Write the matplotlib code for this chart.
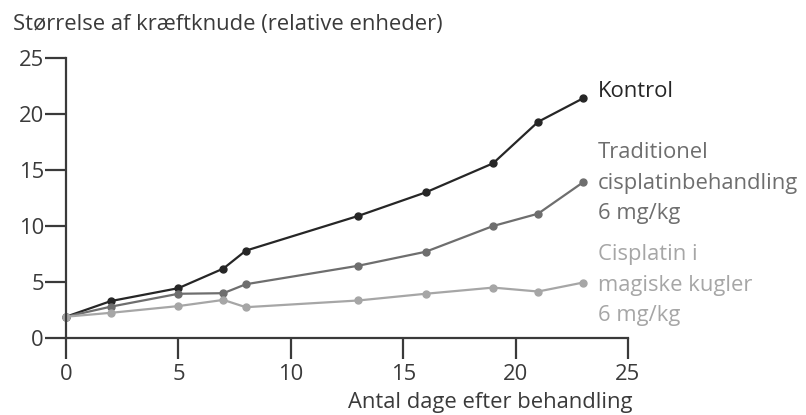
import matplotlib
matplotlib.use("Agg")
import matplotlib.pyplot as plt

plt.rcParams['font.family'] = ['Open Sans', 'DejaVu Sans']

days = [0, 2, 5, 7, 8, 13, 16, 19, 21, 23]
kontrol = [1.9, 3.3, 4.45, 6.2, 7.8, 10.9, 13.0, 15.6, 19.3, 21.4]
traditionel = [1.9, 2.8, 3.95, 4.0, 4.8, 6.45, 7.7, 10.0, 11.1, 13.9]
magiske = [1.9, 2.25, 2.85, 3.4, 2.75, 3.35, 3.95, 4.5, 4.15, 4.95]

labels = [['Kontrol'],
          ['Traditionel', 'cisplatinbehandling', '6 mg/kg'],
          ['Cisplatin i', 'magiske kugler', '6 mg/kg']]
colors = ['#262626', '#6e6e6e', '#a6a6a6']
xticks = [0, 5, 10, 15, 20, 25]
yticks = [0, 5, 10, 15, 20, 25]

W, H = 806, 415
fs = 15.8
fig = plt.figure(figsize=(W / 100, H / 100), dpi=100)
ax = fig.add_axes([66 / W, 77 / H, 562 / W, 280 / H])

for y, c in zip([kontrol, traditionel, magiske], colors):
    ax.plot(days, y, color=c, lw=1.6, marker='o', ms=5, mec=c, mfc=c,
            clip_on=False)

ax.set_xlim(0, 25)
ax.set_ylim(0, 25)
ax.set_xticks(xticks)
ax.set_yticks(yticks)
for s in ['top', 'right']:
    ax.spines[s].set_visible(False)
for s in ['left', 'bottom']:
    ax.spines[s].set_color('#3a3a3a')
    ax.spines[s].set_linewidth(1.6)
ax.tick_params(axis='both', length=15, width=1.6, color='#3a3a3a',
               labelcolor='#3a3a3a', labelsize=fs)
ax.tick_params(axis='y', pad=1)
ax.tick_params(axis='x', pad=3.5)

fig.text(13 / W, 1 - 30 / H, 'Størrelse af kræftknude (relative enheder)',
         color='#3a3a3a', fontsize=fs, ha='left', va='baseline')
fig.text(632 / W, 1 - 408 / H, 'Antal dage efter behandling',
         color='#3a3a3a', fontsize=fs, ha='right', va='baseline')

first_baseline = [97, 158, 260]
for lines, c, b in zip(labels, colors, first_baseline):
    for i, line in enumerate(lines):
        fig.text(598 / W, 1 - (b + 30.5 * i) / H, line, color=c, fontsize=fs,
                 ha='left', va='baseline')

fig.savefig('out.png', dpi=100)
